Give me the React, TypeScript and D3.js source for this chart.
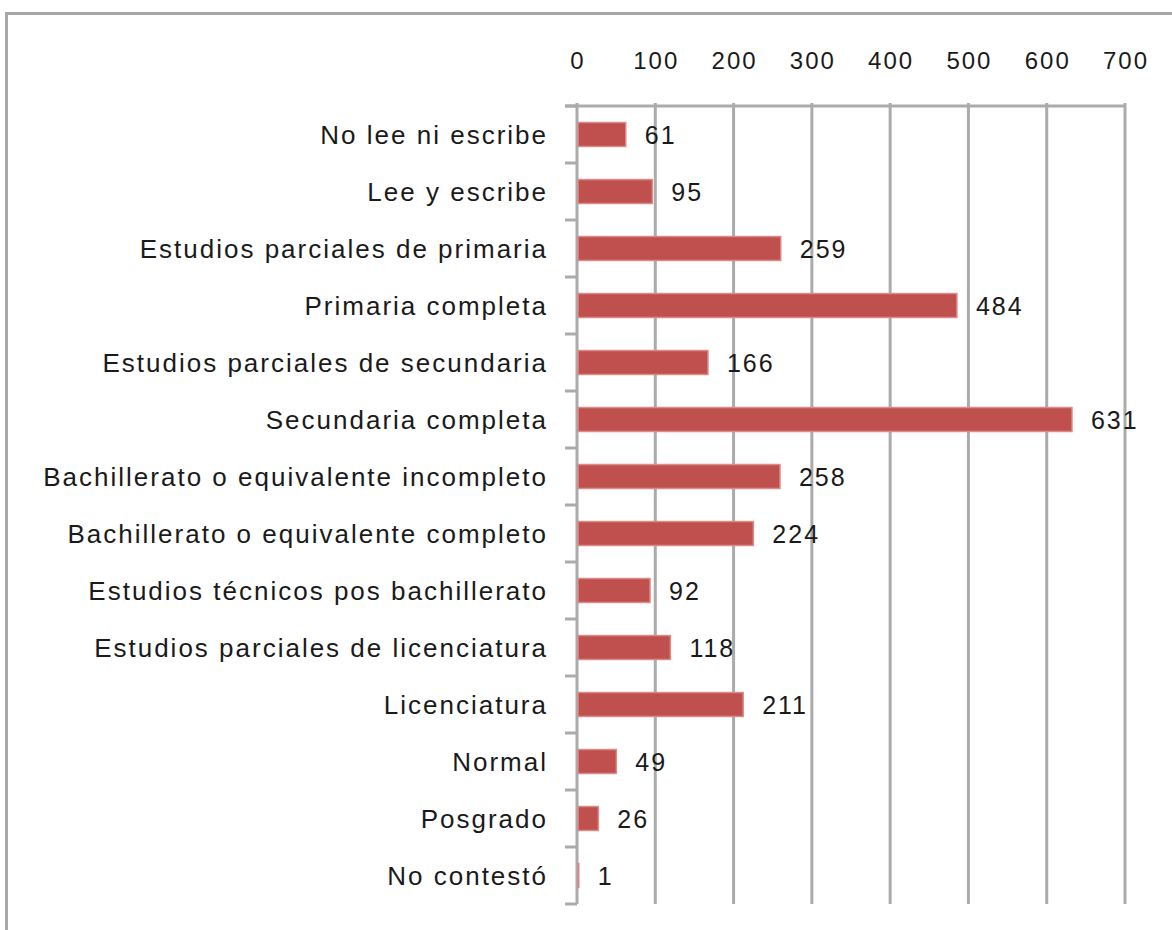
import React from "react";
import * as d3 from "d3";

const categories: string[] = [
  "No lee ni escribe",
  "Lee y escribe",
  "Estudios parciales de primaria",
  "Primaria completa",
  "Estudios parciales de secundaria",
  "Secundaria completa",
  "Bachillerato o equivalente incompleto",
  "Bachillerato o equivalente completo",
  "Estudios técnicos pos bachillerato",
  "Estudios parciales de licenciatura",
  "Licenciatura",
  "Normal",
  "Posgrado",
  "No contestó",
];

const values: number[] = [61, 95, 259, 484, 166, 631, 258, 224, 92, 118, 211, 49, 26, 1];

const tickValues: number[] = [0, 100, 200, 300, 400, 500, 600, 700];

const W = 1172;
const H = 930;
const FONT = "'Liberation Sans', Arial, sans-serif";
const TEXT = "#1a1a1a";
const GRID = "#ababab";
const BAR = "#c0504d";

export default function App() {
  const x = d3.scaleLinear().domain([0, 700]).range([577, 1125]);
  const y = d3
    .scaleBand<string>()
    .domain(categories)
    .range([106, 904])
    .paddingInner(0.58)
    .paddingOuter(0.29);
  const step = y.step();
  const x0 = x(0);

  return (
    <div style={{ position: "absolute", left: 0, top: 0 }}>
      <svg width={W} height={H} style={{ display: "block", background: "#fff" }}>
        {/* outer border */}
        <line x1={6.5} x2={W} y1={13.5} y2={13.5} stroke="#a8a8a8" strokeWidth={3} />
        <line x1={6.5} x2={6.5} y1={12} y2={H} stroke="#a8a8a8" strokeWidth={3} />

        {/* vertical gridlines */}
        {tickValues.map((t) => (
          <line
            key={"g" + t}
            x1={x(t)}
            x2={x(t)}
            y1={y.range()[0] - 3}
            y2={y.range()[1]}
            stroke={GRID}
            strokeWidth={3}
          />
        ))}

        {/* top axis line */}
        <line x1={x0 - 12} x2={x(700)} y1={y.range()[0]} y2={y.range()[0]} stroke={GRID} strokeWidth={3} />

        {/* category ticks */}
        {d3.range(categories.length + 1).map((i) => {
          const yy = y.range()[0] + i * step;
          return (
            <line key={"t" + i} x1={x0 - 12} x2={x0} y1={yy} y2={yy} stroke={GRID} strokeWidth={3} />
          );
        })}

        {/* top tick labels */}
        {tickValues.map((t) => (
          <text
            key={"l" + t}
            x={x(t) + 1}
            y={63}
            textAnchor="middle"
            dominantBaseline="middle"
            fontFamily={FONT}
            fontSize={24}
            letterSpacing={2}
            fill={TEXT}
          >
            {t}
          </text>
        ))}

        {/* bars */}
        {categories.map((c, i) => (
          <rect
            key={"b" + c}
            x={x0 + 1}
            y={y(c)!}
            width={Math.max(0, x(values[i]) - x0)}
            height={y.bandwidth()}
            fill={BAR}
            stroke="#d98b89"
            strokeWidth={1.5}
          />
        ))}

        {/* category labels */}
        {categories.map((c) => (
          <text
            key={"c" + c}
            x={548}
            y={y(c)! + y.bandwidth() / 2 + 3}
            textAnchor="end"
            dominantBaseline="middle"
            fontFamily={FONT}
            fontSize={26}
            letterSpacing={2}
            fill={TEXT}
          >
            {c}
          </text>
        ))}

        {/* value labels */}
        {categories.map((c, i) => (
          <text
            key={"v" + c}
            x={x(values[i]) + 20}
            y={y(c)! + y.bandwidth() / 2 + 3}
            textAnchor="start"
            dominantBaseline="middle"
            fontFamily={FONT}
            fontSize={25}
            letterSpacing={2}
            fill={TEXT}
          >
            {values[i]}
          </text>
        ))}
      </svg>
    </div>
  );
}
